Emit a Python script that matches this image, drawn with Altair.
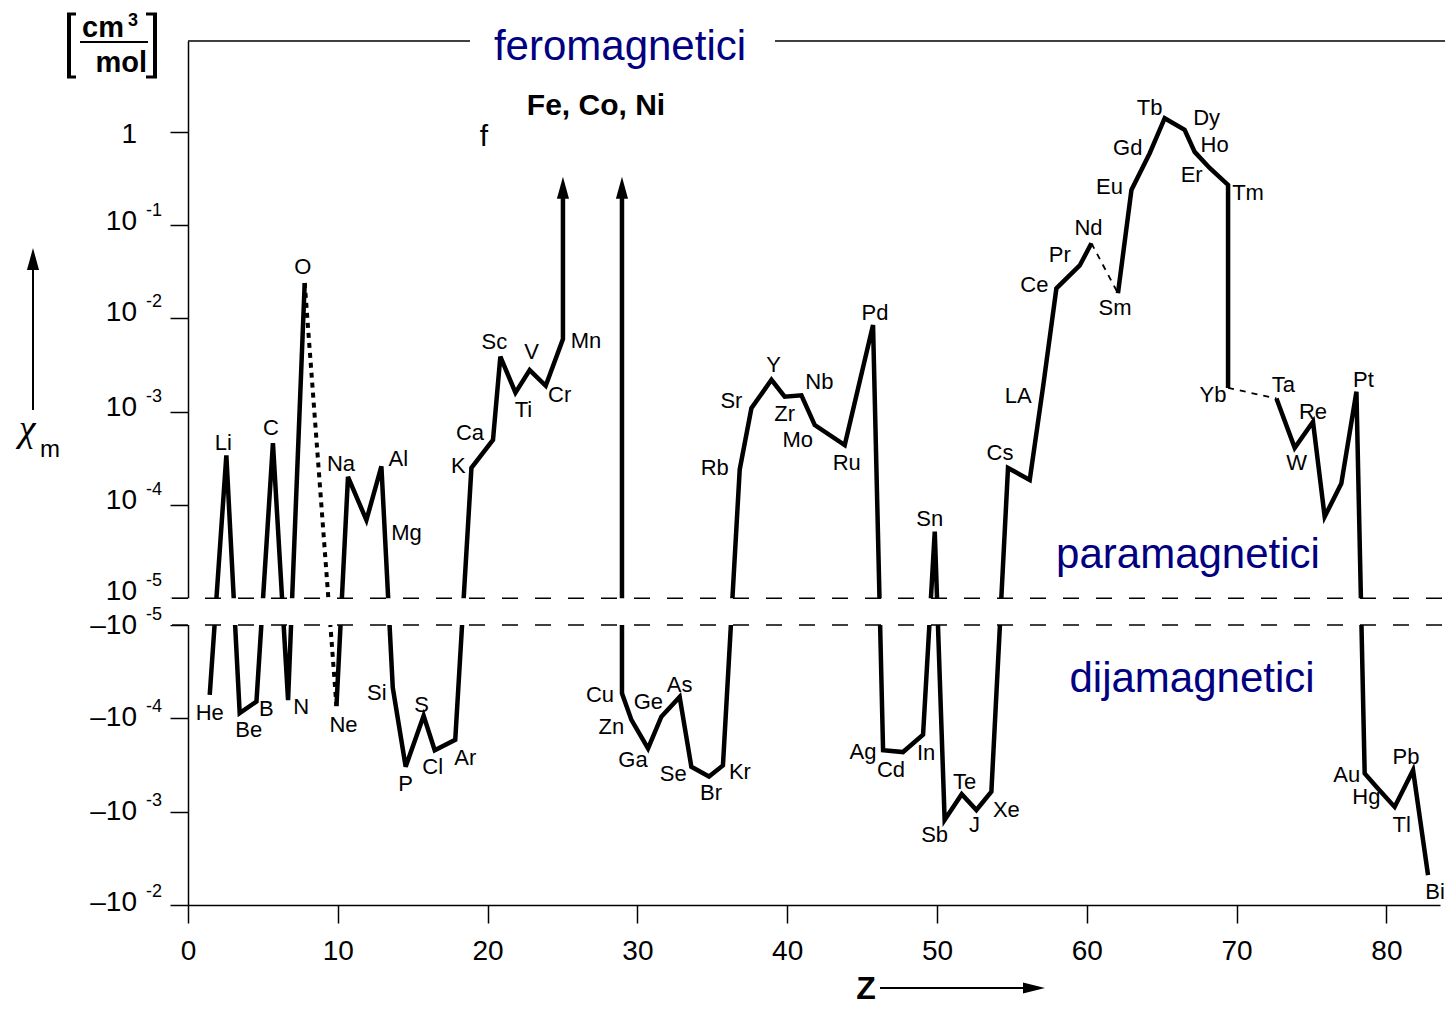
import math
import altair as alt
import pandas as pd

# ---------------- data ----------------
SYMBOLS = ["He", "Li", "Be", "B", "C", "N", "O",
           "Ne", "Na", "Mg", "Al", "Si", "P", "S", "Cl", "Ar", "K", "Ca", "Sc", "Ti", "V", "Cr", "Mn",
           "Cu", "Zn", "Ga", "Ge", "As", "Se", "Br", "Kr", "Rb", "Sr", "Y", "Zr", "Nb", "Mo", "Ru", "Pd",
           "Ag", "Cd", "In", "Sn", "Sb", "Te", "J", "Xe", "Cs", "Ba", "LA", "Ce", "Pr", "Nd",
           "Sm", "Eu", "Gd", "Tb", "Dy", "Ho", "Er", "Tm", "Yb",
           "Ta", "W", "Re", "Os", "Ir", "Pt", "Au", "Hg", "Tl", "Pb", "Bi"]
Z_POS = [1.45, 2.56, 3.45, 4.57, 5.67, 6.68, 7.79,
         9.91, 10.68, 11.91, 12.91, 13.67, 14.53, 15.73, 16.47, 17.84, 18.92, 20.36, 20.85, 21.86, 22.81, 23.88, 25.03,
         28.97, 29.6, 30.71, 31.6, 32.82, 33.6, 34.78, 35.71, 36.83, 37.61, 38.95, 39.83, 40.95, 41.84, 43.84, 45.73,
         46.4, 47.73, 49.07, 49.85, 50.51, 51.65, 52.63, 53.63, 54.74, 56.19, 57.09, 57.97, 59.53, 60.31,
         62.08, 62.98, 64.2, 65.2, 66.53, 67.2, 68.2, 69.43, 69.43,
         72.66, 73.88, 75.1, 75.88, 76.99, 78.0, 78.55, 79.33, 80.55, 81.78, 82.78]
CHI = [-5.6e-5, 3.4e-4, -8.8e-5, -6.6e-5, 4.6e-4, -6.4e-5, 2.4e-2,
       -7.4e-5, 2.0e-4, 6.9e-5, 2.6e-4, -4.7e-5, -3.3e-4, -9.4e-5, -2.2e-4, -1.7e-4, 2.5e-4, 5.0e-4, 3.9e-3, 1.6e-3, 2.8e-3, 1.9e-3, 6.0e-3,
       -5.4e-5, -1.04e-4, -2.1e-4, -9.6e-5, -5.9e-5, -3.3e-4, -4.2e-4, -3.2e-4, 2.4e-4, 1.09e-3, 2.2e-3, 1.45e-3, 1.5e-3, 7.2e-4, 4.4e-4, 8.5e-3,
       -2.2e-4, -2.3e-4, -1.5e-4, 5.2e-5, -1.23e-3, -6.5e-4, -9.6e-4, -6.1e-4, 2.5e-4, 1.86e-4, 1.9e-3, 2.1e-2, 3.7e-2, 6.4e-2,
       1.86e-2, 0.238, 0.59, 1.40, 1.05, 0.61, 0.41, 0.27, 1.8e-3,
       1.39e-3, 4.1e-4, 7.8e-4, 7.5e-5, 1.7e-4, 1.64e-3, -3.9e-4, -5.4e-4, -8.9e-4, -3.6e-4, -4.8e-3]

SOLID_RUNS = [("He", "O"), ("Ne", "Mn"), ("Cu", "Nd"), ("Sm", "Yb"), ("Ta", "Bi")]
DOTTED_RUNS = [("O", "Ne")]
DASHED_RUNS = [("Nd", "Sm"), ("Yb", "Ta")]
FERRO_ARROWS = ["Mn", "Cu"]          # shafts rising off the scale (Fe, Co, Ni)
ARROW_SHAFT_TOP = 0.25
ARROW_TIP = 0.33

Y_TICKS = [1, 1e-1, 1e-2, 1e-3, 1e-4, 1e-5, -1e-5, -1e-4, -1e-3, -1e-2]
Y_TICK_BASE = ["1", "10", "10", "10", "10", "10", "\u201310", "\u201310", "\u201310", "\u201310"]
Y_TICK_SUP = ["", "-1", "-2", "-3", "-4", "-5", "-5", "-4", "-3", "-2"]
X_TICKS = [0, 10, 20, 30, 40, 50, 60, 70, 80]

# ---------------- placement / style (kept apart from the data) ----------------
# label placement relative to its point (pixels: right, down)
LABEL_OFFSET = {
    "He": (0, 18), "Li": (-3, -12), "Be": (9, 17), "B": (10, 8), "C": (-2, -15), "N": (13, 7),
    "O": (-2, -16), "Ne": (7, 19), "Na": (-7, -13), "Mg": (40, 13), "Al": (17, -7), "Si": (-16, 5),
    "P": (0, 17), "S": (-2, -11), "Cl": (-2, 17), "Ar": (10, 18), "K": (-13, -2), "Ca": (-23, -7),
    "Sc": (-6, -15), "Ti": (8, 17), "V": (2, -18), "Cr": (14, 9), "Mn": (23, 2), "Cu": (-22, 2),
    "Zn": (-20, 7), "Ga": (-15, 12), "Ge": (-13, -15), "As": (0, -12), "Se": (-18, 7), "Br": (2, 17),
    "Kr": (17, 7), "Rb": (-25, -2), "Sr": (-20, -7), "Y": (2, -15), "Zr": (0, 17), "Nb": (18, -13),
    "Mo": (-17, 15), "Ru": (2, 18), "Pd": (2, -12), "Ag": (-20, 2), "Cd": (-12, 18), "In": (3, 18),
    "Sn": (-5, -13), "Sb": (-10, 15), "Te": (3, -12), "J": (-2, 15), "Xe": (15, 18), "Cs": (-8, -15),
    "LA": (-25, 10), "Ce": (-22, -3), "Pr": (-20, -10), "Nd": (-3, -15), "Sm": (-3, 15), "Eu": (-22, -3),
    "Gd": (-22, -5), "Tb": (-15, -10), "Dy": (22, -12), "Ho": (20, -7), "Er": (-18, 7), "Tm": (20, 8),
    "Yb": (-15, 7), "Ta": (7, -13), "W": (2, 15), "Re": (0, -10), "Pt": (7, -12), "Au": (-18, 2),
    "Hg": (-10, 10), "Tl": (7, 18), "Pb": (-7, -13), "Bi": (7, 17),
}
TICK_LABEL_NUDGE = [3, -3, -5, -4, -4, -6, 1, 0, 0, -2]   # pixels down from the tick

W, H = 1252, 864
XMAX = W / 14.98
HALF_GAP = 0.143
YMIN, YMAX = -3.144, 6.117
PXZ = W / XMAX
PXD = H / (YMAX - YMIN)
FONT = "Liberation Sans"
NAVY = "#000080"


def pos(v):
    s = 1 if v > 0 else -1
    return s * (math.log10(abs(v)) + 5 + HALF_GAP)


idx = {s: i for i, s in enumerate(SYMBOLS)}


def run_rows(runs, add_arrows):
    rows = []
    for k, (a, b) in enumerate(runs):
        pts = [(Z_POS[i], CHI[i]) for i in range(idx[a], idx[b] + 1)]
        if add_arrows and b in FERRO_ARROWS:
            pts.append((Z_POS[idx[b]], ARROW_SHAFT_TOP))
        if add_arrows and a in FERRO_ARROWS:
            pts.insert(0, (Z_POS[idx[a]], ARROW_SHAFT_TOP))
        for j, (z, c) in enumerate(pts):
            rows.append({"seg": k, "i": j, "Z": z, "pos": pos(c)})
    return pd.DataFrame(rows)


xs = alt.Scale(domain=[0, XMAX], nice=False, zero=False)
ys = alt.Scale(domain=[YMIN, YMAX], nice=False, zero=False)

x_axis = alt.Axis(values=X_TICKS, tickSize=18, tickWidth=1.5, tickColor="black", domainColor="black",
                  domainWidth=1.5, labelFont=FONT, labelFontSize=28, labelColor="black", labelPadding=14,
                  labelAngle=0, labelFlush=False, grid=False, title=None, zindex=0)
y_axis = alt.Axis(values=[pos(v) for v in Y_TICKS], labels=False, tickSize=18, tickWidth=1.5, tickColor="black",
                  domainColor="black", domainWidth=1.5, grid=False, title=None, zindex=0)


def X(f):
    return alt.X(f, type="quantitative", scale=xs, axis=x_axis)


def Y(f):
    return alt.Y(f, type="quantitative", scale=ys, axis=y_axis)


solid_df = run_rows(SOLID_RUNS, True)
dotted_df = run_rows(DOTTED_RUNS, False)
dashed_df = run_rows(DASHED_RUNS, False)

solid = alt.Chart(solid_df).mark_line(color="black", strokeWidth=4.5, strokeJoin="miter").encode(
    x=X("Z"), y=Y("pos"), detail="seg:N", order="i:Q")
dotted = alt.Chart(dotted_df).mark_line(color="black", strokeWidth=4, strokeDash=[5, 5]).encode(
    x=X("Z"), y=Y("pos"), detail="seg:N", order="i:Q")
dashed = alt.Chart(dashed_df).mark_line(color="black", strokeWidth=1.8, strokeDash=[6, 6]).encode(
    x=X("Z"), y=Y("pos"), detail="seg:N", order="i:Q")

head_up = "M0,0L0.55,2L-0.55,2Z"
head_right = "M0,0L-2,-0.5L-2,0.5Z"
arrow_df = pd.DataFrame({"Z": [Z_POS[idx[s]] for s in FERRO_ARROWS], "pos": [pos(ARROW_TIP)] * len(FERRO_ARROWS)})
arrows = alt.Chart(arrow_df).mark_point(shape=head_up, filled=True, color="black", opacity=1, size=484).encode(
    x=X("Z"), y=Y("pos"))

gap = alt.Chart(pd.DataFrame({"pos": [HALF_GAP], "b": [-HALF_GAP]})).mark_rect(color="white").encode(
    y=Y("pos"), y2="b:Q", x=alt.value(-25), x2=alt.value(W + 10))
band = alt.Chart(pd.DataFrame({"pos": [HALF_GAP, -HALF_GAP]})).mark_rule(
    color="black", strokeWidth=1.5, strokeDash=[16, 17]).encode(
    y=Y("pos"), x=alt.value(-16), x2=alt.value(W + 10))

lab_rows = []
for s in SYMBOLS:
    if s in LABEL_OFFSET:
        dx, dy = LABEL_OFFSET[s]
        i = idx[s]
        lab_rows.append({"t": s, "Z": Z_POS[i] + dx / PXZ, "pos": pos(CHI[i]) - dy / PXD})
labels = alt.Chart(pd.DataFrame(lab_rows)).mark_text(
    font=FONT, fontSize=22, color="black", align="center", baseline="middle").encode(
    x=X("Z"), y=Y("pos"), text="t:N")

tick_df = pd.DataFrame({"pos": [pos(v) - n / PXD for v, n in zip(Y_TICKS, TICK_LABEL_NUDGE)],
                        "base": Y_TICK_BASE, "sup": Y_TICK_SUP})
tick_base = alt.Chart(tick_df).mark_text(font=FONT, fontSize=28, color="black", align="right",
                                         baseline="middle").encode(
    y=Y("pos"), x=alt.value(-51), text="base:N")
tick_sup = alt.Chart(tick_df).mark_text(font=FONT, fontSize=18, color="black", align="left",
                                        baseline="middle", dy=-11).encode(
    y=Y("pos"), x=alt.value(-42), text="sup:N")


def note(text, x, y, size, color="black", align="center", weight="normal", font=FONT, style="normal"):
    return alt.Chart(pd.DataFrame({"t": [text]})).mark_text(
        align=align, baseline="alphabetic", fontSize=size, font=font, fontWeight=weight,
        fontStyle=style, color=color).encode(x=alt.value(x), y=alt.value(y), text="t:N")


def seg(x1, y1, x2, y2, w=1.5):
    return alt.Chart(pd.DataFrame({"a": [0]})).mark_rule(color="black", strokeWidth=w).encode(
        x=alt.value(x1), y=alt.value(y1), x2=alt.value(x2), y2=alt.value(y2))


def head(shape, x, y):
    return alt.Chart(pd.DataFrame({"a": [0]})).mark_point(
        shape=shape, filled=True, color="black", opacity=1, size=484).encode(x=alt.value(x), y=alt.value(y))


decor = [
    seg(0, 0, 282, 0), seg(587, 0, W + 10, 0),
    note("feromagnetici", 432, 19, 42, NAVY),
    note("paramagnetici", 1000, 527, 42, NAVY),
    note("dijamagnetici", 1004, 651, 42, NAVY),
    note("Fe, Co, Ni", 408, 74, 30, weight="bold"),
    note("f", 296, 105, 30),
    # unit [cm3/mol]
    seg(-119, -27, -119, 36, 4), seg(-121, -27, -112, -27, 3), seg(-121, 36, -112, 36, 3),
    seg(-33, -27, -33, 36, 4), seg(-42, -27, -31, -27, 3), seg(-42, 36, -31, 36, 3),
    seg(-108, 1, -40, 1, 2),
    note("cm", -106, -4, 29, align="left", weight="bold"),
    note("3", -60, -15, 18, align="left", weight="bold"),
    note("mol", -41, 31, 29, align="right", weight="bold"),
    # chi_m with arrow
    seg(-155, 369, -155, 220, 2), head(head_up, -155, 207),
    note("\u03c7", -161, 400, 38, font="Liberation Serif", style="italic"),
    note("m", -148, 416, 24, align="left"),
    # Z -->
    note("Z", 678, 958, 32, weight="bold"),
    seg(692, 947, 845, 947, 2), head(head_right, 857, 947),
]

chart = alt.layer(solid, dotted, dashed, arrows, gap, band, labels, tick_base, tick_sup, *decor).properties(
    width=W, height=H,
    autosize=alt.AutoSizeParams(type="none"),
    padding={"left": 180, "top": 33, "right": 5, "bottom": 101},
).configure_view(strokeWidth=0)

chart.save("out.html", embed_options={"renderer": "svg", "actions": False})
